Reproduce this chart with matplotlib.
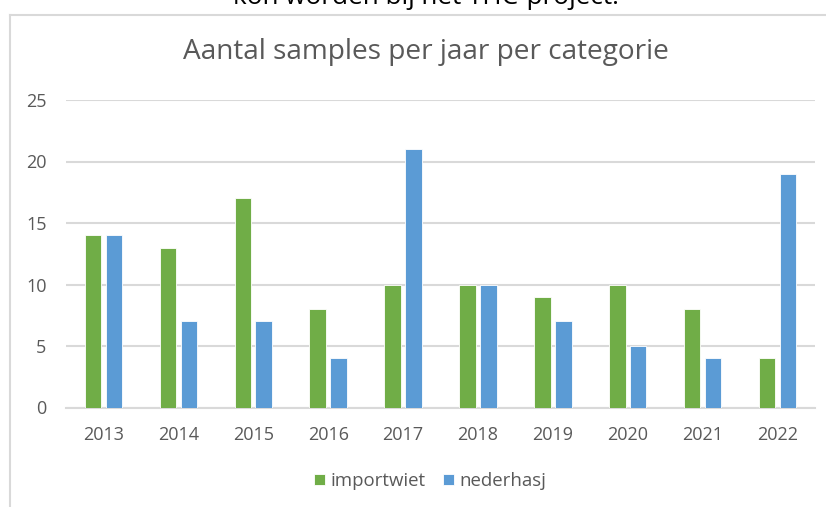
import matplotlib
matplotlib.use("Agg")
import matplotlib.pyplot as plt
from matplotlib.lines import Line2D
import numpy as np

plt.rcParams['font.family'] = ['Open Sans', 'DejaVu Sans']

years = ["2013", "2014", "2015", "2016", "2017", "2018", "2019", "2020", "2021", "2022"]
importwiet = [14, 13, 17, 8, 10, 10, 9, 10, 8, 4]
nederhasj = [14, 7, 7, 4, 21, 10, 7, 5, 4, 19]
y_ticks = [0, 5, 10, 15, 20, 25]

GREEN = "#70AD47"
BLUE = "#5B9BD5"
TEXT = "#595959"
GRID = "#D9D9D9"

W, H = 826, 507
fig = plt.figure(figsize=(W / 100, H / 100), dpi=100)

# chart frame (top and left edges)
fig.add_artist(Line2D([10 / W, 1.0], [1 - 15 / H, 1 - 15 / H], color=GRID, lw=1.5,
                      transform=fig.transFigure))
fig.add_artist(Line2D([10 / W, 10 / W], [0, 1 - 15 / H], color=GRID, lw=1.5,
                      transform=fig.transFigure))

# caption line from the surrounding document
fig.text(426 / W, 1 - 4 / H, "kon worden bij het THC-project.", ha="center", va="baseline",
         fontsize=18.8, color="black")

ax = fig.add_axes([66 / W, 1 - 407.5 / H, (815 - 66) / W, (407.5 - 100) / H])
x = np.arange(len(years))
bw = 0.22
off = 0.14
ax.bar(x - off, importwiet, width=bw, color=GREEN, edgecolor="white", linewidth=0.6,
       label="importwiet", zorder=3)
ax.bar(x + off, nederhasj, width=bw, color=BLUE, edgecolor="white", linewidth=0.6,
       label="nederhasj", zorder=3)

ax.set_xlim(-0.5, len(years) - 0.5)
ax.set_ylim(0, 25)
ax.set_yticks(y_ticks)
ax.set_xticks(x)
ax.set_xticklabels(years)
ax.yaxis.grid(True, color=GRID, lw=1.5, zorder=0)
ax.set_axisbelow(True)
for s in ["top", "right", "left"]:
    ax.spines[s].set_visible(False)
ax.spines["bottom"].set_color(GRID)
ax.spines["bottom"].set_linewidth(1.5)
ax.tick_params(axis="both", length=0, colors=TEXT, labelsize=13)
ax.tick_params(axis="x", pad=13)
ax.tick_params(axis="y", pad=14)

fig.text(426 / W, 1 - 52 / H, "Aantal samples per jaar per categorie", ha="center",
         va="center", fontsize=20.2, color=TEXT)

fig.legend(loc="center", bbox_to_anchor=(430 / W, 1 - 481 / H), ncol=2, frameon=False,
           fontsize=13.4, labelcolor=TEXT, handlelength=0.6, handleheight=0.6,
           handletextpad=0.3, columnspacing=0.9)

fig.savefig("out.png", dpi=100)
